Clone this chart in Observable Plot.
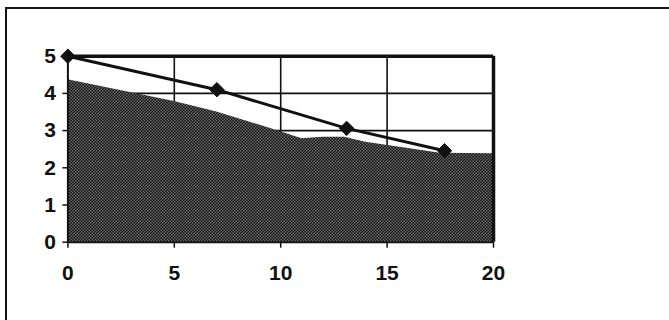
<!DOCTYPE html>
<html>
<head>
<meta charset="utf-8">
<script src="https://cdn.jsdelivr.net/npm/d3@7"></script>
<script src="https://cdn.jsdelivr.net/npm/@observablehq/plot@0.6"></script>
<style>
  html, body { margin: 0; padding: 0; background: #fff; overflow: hidden; }
  #wrap { position: relative; width: 669px; height: 320px; }
  #frame { position: absolute; left: 5px; top: 7px; width: 720px; height: 400px;
           border-left: 2px solid #151515; border-top: 2px solid #151515; pointer-events: none; }
</style>
</head>
<body>
<div id="wrap"><div id="frame"></div></div>
<script>
// Shaded area (lower curve)
const areaX = [0, 5, 7, 9, 10, 11, 12, 13, 14, 16, 17.5, 20];
const areaY = [4.37, 3.78, 3.5, 3.15, 2.97, 2.78, 2.82, 2.82, 2.69, 2.52, 2.39, 2.38];
// Line with diamond markers
const lineX = [0, 7, 13.1, 17.7];
const lineY = [5, 4.1, 3.06, 2.46];
// Ticks
const xTicks = [0, 5, 10, 15, 20];
const yTicks = [0, 1, 2, 3, 4, 5];
const xGrid = [5, 10, 15];
const yGrid = [1, 2, 3, 4];

const areaData = areaX.map((x, i) => ({x, y: areaY[i]}));
const lineData = lineX.map((x, i) => ({x, y: lineY[i]}));

const font = "'Liberation Sans', Arial, sans-serif";

const chart = Plot.plot({
  width: 669,
  height: 320,
  marginLeft: 67.4,
  marginRight: 176,
  marginTop: 55.7,
  marginBottom: 78.3,
  style: { fontFamily: font, fontSize: "21px", color: "#111", background: "transparent" },
  x: { domain: [0, 20] },
  y: { domain: [0, 5] },
  marks: [
    Plot.ruleX(xGrid, { stroke: "#111", strokeWidth: 1.6 }),
    Plot.ruleY(yGrid, { stroke: "#111", strokeWidth: 1.6 }),
    Plot.areaY(areaData, { x: "x", y: "y", fill: "#333" }),
    Plot.ruleY([5], { stroke: "#111", strokeWidth: 3.5 }),
    Plot.ruleX([20], { stroke: "#111", strokeWidth: 3.5 }),
    Plot.ruleX([0], { stroke: "#111", strokeWidth: 2 }),
    Plot.ruleY([0], { stroke: "#111", strokeWidth: 2 }),
    Plot.line(lineData, { x: "x", y: "y", stroke: "#111", strokeWidth: 3 }),
    Plot.dot(lineData, { x: "x", y: "y", symbol: "diamond2", fill: "#111", stroke: "#111", strokeWidth: 1, r: 6.5 }),
    Plot.axisX({ ticks: xTicks, tickSize: 6, tickPadding: 17, tickFormat: d => String(d), label: null, stroke: "#111", strokeWidth: 1.5, fill: "#111" }),
    Plot.axisY({ ticks: yTicks, tickSize: 5, tickPadding: 7, tickFormat: d => String(d), label: null, stroke: "#111", strokeWidth: 1.5, fill: "#111" })
  ]
});

const svg = d3.select(chart);
svg.selectAll("text")
  .attr("font-size", 21)
  .attr("font-weight", "bold")
  .style("font-size", "21px")
  .style("font-weight", "bold")
  .style("font-family", font);

// stippled fill pattern for the area
const defs = svg.insert("defs", ":first-child");
const pat = defs.append("pattern")
  .attr("id", "stipple").attr("patternUnits", "userSpaceOnUse")
  .attr("width", 3).attr("height", 3);
pat.append("rect").attr("width", 3).attr("height", 3).attr("fill", "#121212");
pat.append("rect").attr("x", 0).attr("y", 0).attr("width", 1.5).attr("height", 1.5).attr("fill", "#686868");
pat.append("rect").attr("x", 1.5).attr("y", 1.5).attr("width", 1.5).attr("height", 1.5).attr("fill", "#686868");
svg.selectAll('g[aria-label="area"] path').attr("fill", "url(#stipple)");

document.getElementById("wrap").insertBefore(chart, document.getElementById("frame"));
</script>
</body>
</html>
